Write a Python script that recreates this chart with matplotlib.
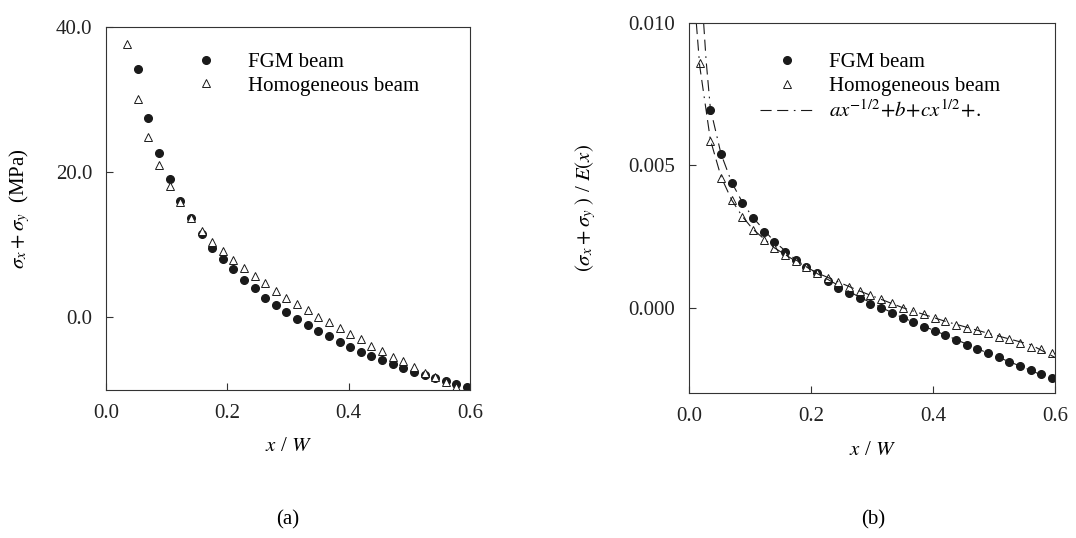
import matplotlib
matplotlib.use("Agg")
import matplotlib.pyplot as plt

plt.rcParams['font.family'] = ['Liberation Serif', 'DejaVu Serif']
plt.rcParams['mathtext.fontset'] = 'stix'

# (a) sigma_x + sigma_y (MPa) along x/W
x_fgm_a = [0.0525, 0.07, 0.0875, 0.105, 0.1225, 0.14, 0.1575, 0.175, 0.1925, 0.21,
           0.2275, 0.245, 0.2625, 0.28, 0.2975, 0.315, 0.3325, 0.35, 0.3675, 0.385,
           0.4025, 0.42, 0.4375, 0.455, 0.4725, 0.49, 0.5075, 0.525, 0.5425, 0.56,
           0.5775, 0.595]
y_fgm_a = [34.2, 27.5, 22.7, 19.0, 16.0, 13.7, 11.5, 9.6, 8.1, 6.6,
           5.2, 4.0, 2.7, 1.7, 0.7, -0.2, -1.1, -1.9, -2.6, -3.4,
           -4.1, -4.7, -5.3, -5.9, -6.4, -7.0, -7.5, -7.9, -8.4, -8.8,
           -9.2, -9.6]
x_hom_a = [0.035, 0.0525, 0.07, 0.0875, 0.105, 0.1225, 0.14, 0.1575, 0.175, 0.1925,
           0.21, 0.2275, 0.245, 0.2625, 0.28, 0.2975, 0.315, 0.3325, 0.35, 0.3675,
           0.385, 0.4025, 0.42, 0.4375, 0.455, 0.4725, 0.49, 0.5075, 0.525, 0.5425,
           0.56, 0.5775]
y_hom_a = [37.7, 30.1, 24.8, 21.0, 18.1, 15.9, 13.7, 11.9, 10.4, 9.2,
           7.9, 6.8, 5.7, 4.7, 3.7, 2.7, 1.8, 1.0, 0.1, -0.7,
           -1.5, -2.3, -3.0, -3.9, -4.6, -5.4, -6.0, -6.8, -7.6, -8.2,
           -8.9, -9.6]

# (b) (sigma_x + sigma_y) / E(x)
x_fgm_b = [0.035, 0.0525, 0.07, 0.0875, 0.105, 0.1225, 0.14, 0.1575, 0.175, 0.1925,
           0.21, 0.2275, 0.245, 0.2625, 0.28, 0.2975, 0.315, 0.3325, 0.35, 0.3675,
           0.385, 0.4025, 0.42, 0.4375, 0.455, 0.4725, 0.49, 0.5075, 0.525, 0.5425,
           0.56, 0.5775, 0.595]
y_fgm_b = [0.00696, 0.00538, 0.00437, 0.00367, 0.00315, 0.00266, 0.00231, 0.00196, 0.00168, 0.00141,
           0.00120, 0.00094, 0.00070, 0.00052, 0.00035, 0.00014, -0.00003, -0.00020, -0.00035, -0.00050,
           -0.00068, -0.00082, -0.00096, -0.00115, -0.00130, -0.00147, -0.00160, -0.00175, -0.00190, -0.00206,
           -0.00220, -0.00234, -0.00248]
x_hom_b = [0.0175, 0.035, 0.0525, 0.07, 0.0875, 0.105, 0.1225, 0.14, 0.1575, 0.175,
           0.1925, 0.21, 0.2275, 0.245, 0.2625, 0.28, 0.2975, 0.315, 0.3325, 0.35,
           0.3675, 0.385, 0.4025, 0.42, 0.4375, 0.455, 0.4725, 0.49, 0.5075, 0.525,
           0.5425, 0.56, 0.5775, 0.595]
y_hom_b = [0.00860, 0.00584, 0.00455, 0.00378, 0.00318, 0.00273, 0.00238, 0.00210, 0.00185, 0.00163,
           0.00143, 0.00122, 0.00103, 0.00089, 0.00072, 0.00058, 0.00045, 0.00030, 0.00015, 0.00000,
           -0.00012, -0.00022, -0.00035, -0.00048, -0.00060, -0.00070, -0.00080, -0.00090, -0.00105, -0.00110,
           -0.00125, -0.00140, -0.00147, -0.00160]

# fitted curves a x^-1/2 + b + c x^1/2 + ...
x_fit_fgm = [0.024, 0.028, 0.035, 0.0525, 0.07, 0.0875, 0.105, 0.14, 0.175, 0.21,
             0.28, 0.35, 0.42, 0.49, 0.56, 0.6]
y_fit_fgm = [0.0100, 0.0087, 0.0070, 0.0054, 0.0044, 0.0037, 0.00316, 0.00232, 0.00168, 0.00120,
             0.00036, -0.00035, -0.00096, -0.00160, -0.00220, -0.00258]
x_fit_hom = [0.012, 0.0175, 0.035, 0.0525, 0.07, 0.0875, 0.105, 0.14, 0.175, 0.21,
             0.28, 0.35, 0.42, 0.49, 0.56, 0.6]
y_fit_hom = [0.0100, 0.0085, 0.0059, 0.0046, 0.00378, 0.0032, 0.00275, 0.0021, 0.00163, 0.00122,
             0.00058, 0.0, -0.00048, -0.0009, -0.0013, -0.00175]

fs = 15
dash_dot = (0, (10, 5, 10, 5, 1.5, 5))

fig = plt.figure(figsize=(10.76, 5.38), dpi=100)
ax1 = fig.add_axes([106/1076, 1-390/538, 364/1076, 363/538])
ax2 = fig.add_axes([689/1076, 1-393/538, 366/1076, 370/538])

# (a)
ax1.plot(x_fgm_a, y_fgm_a, 'o', ms=5.5, color='#1a1a1a', label='FGM beam')
ax1.plot(x_hom_a, y_hom_a, '^', ms=5.5, mfc='white', mec='#1a1a1a', mew=0.7,
         label='Homogeneous beam')
ax1.set_xlim(0, 0.6)
ax1.set_ylim(-10, 40)
ax1.set_xticks([0.0, 0.2, 0.4, 0.6])
ax1.set_yticks([0, 20, 40])
ax1.set_xticklabels(['0.0', '0.2', '0.4', '0.6'])
ax1.set_yticklabels(['0.0', '20.0', '40.0'])
ax1.set_xlabel('$x$ / $W$', fontsize=fs)
ax1.set_ylabel(r'$\sigma_x + \sigma_y$  (MPa)', fontsize=fs)
ax1.xaxis.set_label_coords(0.5, -0.13)
ax1.yaxis.set_label_coords(-0.203, 0.5)
ax1.legend(loc='upper left', bbox_to_anchor=(0.2, 0.93), frameon=False, fontsize=fs,
           handlelength=2.6, handletextpad=0.7, labelspacing=0.2, borderpad=0,
           borderaxespad=0)

# (b)
ax2.plot(x_fgm_b, y_fgm_b, 'o', ms=5.5, color='#1a1a1a', label='FGM beam')
ax2.plot(x_hom_b, y_hom_b, '^', ms=5.5, mfc='white', mec='#1a1a1a', mew=0.7,
         label='Homogeneous beam')
ax2.plot(x_fit_fgm, y_fit_fgm, color='#1a1a1a', lw=0.8, ls=dash_dot,
         label=r'$ax^{-1/2}\!+\!b\!+\!cx^{1/2}\!+\!.$')
ax2.plot(x_fit_hom, y_fit_hom, color='#1a1a1a', lw=0.8, ls=dash_dot)
ax2.set_xlim(0, 0.6)
ax2.set_ylim(-0.003, 0.010)
ax2.set_xticks([0.0, 0.2, 0.4, 0.6])
ax2.set_yticks([0.0, 0.005, 0.010])
ax2.set_xticklabels(['0.0', '0.2', '0.4', '0.6'])
ax2.set_yticklabels(['0.000', '0.005', '0.010'])
ax2.set_xlabel('$x$ / $W$', fontsize=fs)
ax2.set_ylabel(r'$(\sigma_x + \sigma_y\ )$ / $E(x)$', fontsize=fs)
ax2.xaxis.set_label_coords(0.5, -0.13)
ax2.yaxis.set_label_coords(-0.25, 0.5)
ax2.legend(loc='upper left', bbox_to_anchor=(0.194, 0.92), frameon=False, fontsize=fs,
           handlelength=2.6, handletextpad=0.7, labelspacing=0.2, borderpad=0,
           borderaxespad=0)

for ax in (ax1, ax2):
    ax.tick_params(direction='in', length=5, width=0.8, labelsize=fs, pad=10,
                   colors='#333333', labelcolor='#222222')
    ax.tick_params(top=False, right=False)
    for s in ax.spines.values():
        s.set_linewidth(0.8)
        s.set_color('#333333')

fig.text(288/1076, 1-520/538, '(a)', ha='center', va='center', fontsize=fs)
fig.text(873/1076, 1-520/538, '(b)', ha='center', va='center', fontsize=fs)

fig.savefig('out.png', dpi=100)
